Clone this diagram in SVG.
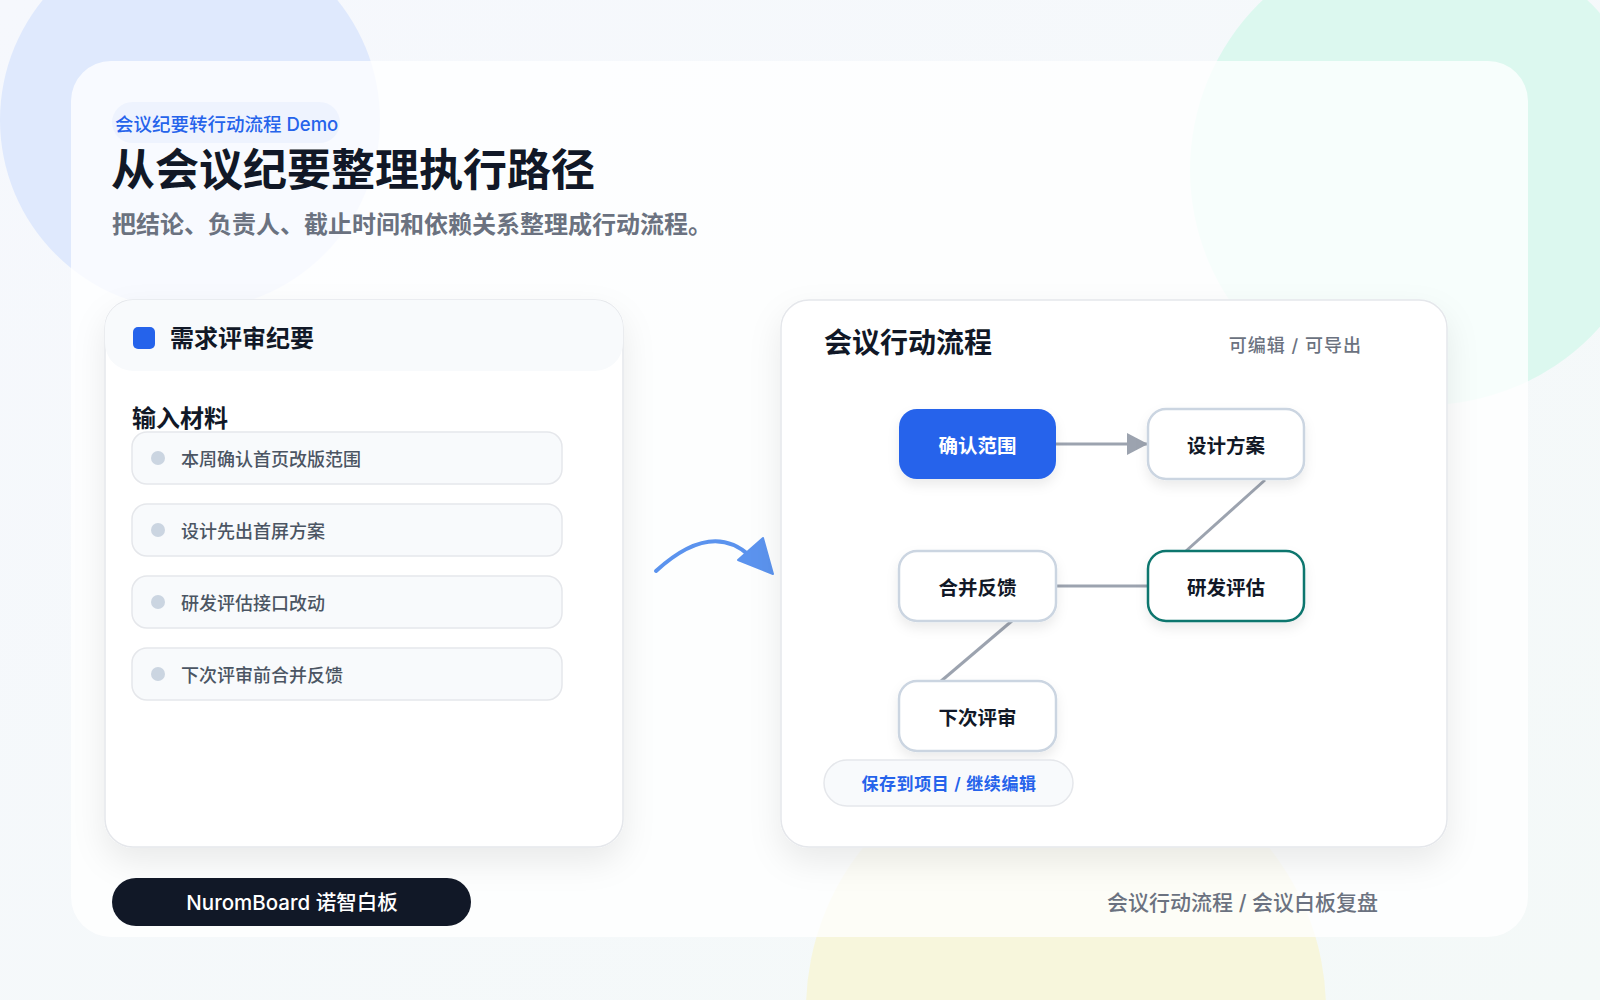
<svg xmlns="http://www.w3.org/2000/svg" width="1600" height="1000" viewBox="0 0 1600 1000">
<style>
text{font-family:Inter,"Noto Sans CJK SC","Noto Sans",sans-serif}
.item{fill:#f8fafc;stroke:#e5e7eb;stroke-width:1.5}
.dot{fill:#cbd5e1}
.itxt{font-size:18px;font-weight:500;fill:#4b5563}
.node{fill:#ffffff;stroke:#cbd5e1;stroke-width:2.5}
.ntxt{font-size:19.5px;font-weight:700;fill:#111827;text-anchor:middle}
.conn{stroke:#9ca3af;stroke-width:3;fill:none}
</style>
<defs>
<linearGradient id="bg" x1="0" y1="0" x2="1" y2="1">
<stop offset="0" stop-color="#f6f8fd"/>
<stop offset="1" stop-color="#f4f9f8"/>
</linearGradient>
<filter id="sh" x="-20%" y="-20%" width="140%" height="150%">
<feDropShadow dx="0" dy="14" stdDeviation="16" flood-color="#0f172a" flood-opacity="0.08"/>
</filter>
<filter id="nsh" x="-20%" y="-20%" width="140%" height="160%">
<feDropShadow dx="0" dy="6" stdDeviation="6" flood-color="#0f172a" flood-opacity="0.08"/>
</filter>
<marker id="arrG" viewBox="0 0 10 10" refX="10" refY="5" markerWidth="21" markerHeight="22" markerUnits="userSpaceOnUse" orient="auto" preserveAspectRatio="none">
<path d="M0,0 L10,5 L0,10 z" fill="#9ca3af"/>
</marker>
</defs>
<rect width="1600" height="1000" fill="url(#bg)"/>
<circle cx="190" cy="120" r="190" fill="#dfe9fd"/>
<circle cx="1425" cy="170" r="235" fill="#dcf8ef"/>
<circle cx="1066" cy="1010" r="260" fill="#f7f6dc"/>

<rect x="71" y="61" width="1457" height="876" rx="40" fill="#ffffff" fill-opacity="0.78"/>

<g id="header">
<rect x="112" y="102" width="228" height="41" rx="20.5" fill="#eef3fe"/>
<text x="115" y="131" font-size="18.5" font-weight="500" fill="#2563eb">会议纪要转行动流程 Demo</text>
<text x="111" y="186" font-size="44" font-weight="700" fill="#111827">从会议纪要整理执行路径</text>
<text x="112" y="233" font-size="24" font-weight="600" fill="#6b7280">把结论、负责人、截止时间和依赖关系整理成行动流程。</text>
</g>

<g id="left-card">
<rect x="105" y="300" width="518" height="547" rx="28" fill="#ffffff" stroke="#e5e7eb" stroke-width="1.5" filter="url(#sh)"/>
<path d="M105,371 L105,328 A28,28 0 0 1 133,300 L595,300 A28,28 0 0 1 623,328 L623,343 A28,28 0 0 1 595,371 L133,371 A28,28 0 0 1 105,343 Z" fill="#f8fafc"/>
<rect x="133" y="327" width="22" height="22" rx="5" fill="#2563eb"/>
<text x="170" y="347" font-size="24" font-weight="700" fill="#111827">需求评审纪要</text>
<text x="132" y="427" font-size="24" font-weight="700" fill="#111827">输入材料</text>
</g>
<g id="item-1">
<rect class="item" x="132" y="432" width="430" height="52" rx="15"/>
<circle class="dot" cx="158" cy="458" r="7"/>
<text class="itxt" x="181" y="466">本周确认首页改版范围</text>
</g>
<g id="item-2">
<rect class="item" x="132" y="504" width="430" height="52" rx="15"/>
<circle class="dot" cx="158" cy="530" r="7"/>
<text class="itxt" x="181" y="538">设计先出首屏方案</text>
</g>
<g id="item-3">
<rect class="item" x="132" y="576" width="430" height="52" rx="15"/>
<circle class="dot" cx="158" cy="602" r="7"/>
<text class="itxt" x="181" y="610">研发评估接口改动</text>
</g>
<g id="item-4">
<rect class="item" x="132" y="648" width="430" height="52" rx="15"/>
<circle class="dot" cx="158" cy="674" r="7"/>
<text class="itxt" x="181" y="682">下次评审前合并反馈</text>
</g>

<g id="transform-arrow">
<path d="M656,571 C690,540 722,530 750,556" fill="none" stroke="#5b93ee" stroke-width="4" stroke-linecap="round"/>
<path d="M763,538 L773,574 L738,560 Z" fill="#5b93ee" stroke="#5b93ee" stroke-width="2" stroke-linejoin="round"/>
</g>

<g id="right-card">
<rect x="781" y="300" width="666" height="547" rx="28" fill="#ffffff" stroke="#e5e7eb" stroke-width="1.5" filter="url(#sh)"/>
<text x="824" y="353" font-size="28" font-weight="700" fill="#111827">会议行动流程</text>
<text x="1362" y="352" font-size="18" font-weight="500" fill="#6b7280" text-anchor="end" letter-spacing="1">可编辑 / 可导出</text>
</g>

<g id="connectors">
<line class="conn" x1="1056" y1="444" x2="1148" y2="444" marker-end="url(#arrG)"/>
<line class="conn" x1="1265" y1="480" x2="1186" y2="551"/>
<line class="conn" x1="1056" y1="586" x2="1148" y2="586"/>
<line class="conn" x1="1013" y1="620" x2="940" y2="682"/>
</g>

<g id="node-confirm">
<rect x="899" y="409" width="157" height="70" rx="18" fill="#2563eb" filter="url(#nsh)"/>
<text class="ntxt" x="977.5" y="453" style="fill:#ffffff">确认范围</text>
</g>
<g id="node-design">
<rect class="node" x="1148" y="409" width="156" height="70" rx="18" filter="url(#nsh)"/>
<text class="ntxt" x="1226" y="453">设计方案</text>
</g>
<g id="node-merge">
<rect class="node" x="899" y="551" width="157" height="70" rx="18" filter="url(#nsh)"/>
<text class="ntxt" x="977.5" y="595">合并反馈</text>
</g>
<g id="node-dev">
<rect class="node" x="1148" y="551" width="156" height="70" rx="18" style="stroke:#0f766e" filter="url(#nsh)"/>
<text class="ntxt" x="1226" y="595">研发评估</text>
</g>
<g id="node-next">
<rect class="node" x="899" y="681" width="157" height="70" rx="18" filter="url(#nsh)"/>
<text class="ntxt" x="977.5" y="725">下次评审</text>
</g>

<g id="save-pill">
<rect x="824" y="760" width="249" height="46" rx="23" fill="#f8fafc" stroke="#e5e7eb" stroke-width="1.5"/>
<text x="949" y="790" font-size="17" font-weight="600" fill="#2563eb" text-anchor="middle" letter-spacing="0.6">保存到项目 / 继续编辑</text>
</g>

<g id="footer">
<rect x="112" y="878" width="359" height="48" rx="24" fill="#111827"/>
<text x="292" y="910" font-size="20.5" font-weight="500" fill="#ffffff" text-anchor="middle">NuromBoard 诺智白板</text>
<text x="1378" y="910" font-size="21" font-weight="500" fill="#6b7280" text-anchor="end">会议行动流程 / 会议白板复盘</text>
</g>
</svg>
